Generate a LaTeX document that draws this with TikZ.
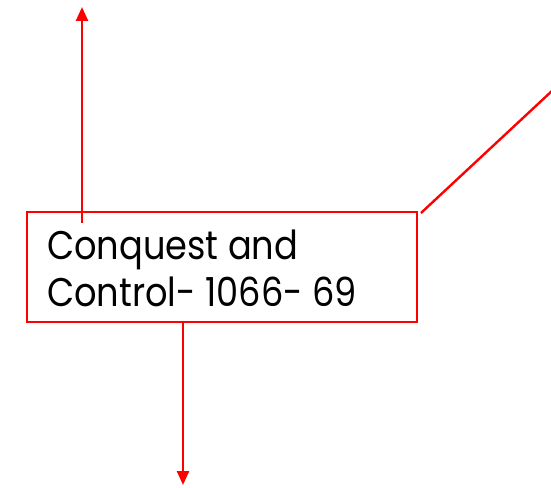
\documentclass[tikz,border=0pt]{standalone}
\usepackage{fontspec}
\setmainfont{Poppins}
\usetikzlibrary{arrows.meta}
\definecolor{linered}{RGB}{255,0,0}
\tikzset{
  x=1pt, y=1pt,
  frame/.style={draw=linered, line width=1.5pt, fill=white},
  link/.style={draw=linered, line width=2.4pt},
  pointer/.style={link, -{Triangle[width=12pt,length=14pt]}},
  label/.style={anchor=base west, inner sep=0pt, xscale=0.88, font=\fontsize{40}{46}\selectfont}
}
\begin{document}
\begin{tikzpicture}
  \useasboundingbox (0,0) rectangle (551,487);
  % connectors leaving the box
  \coordinate (upstart) at (82,264);
  \coordinate (uptip) at (82,480);
  \coordinate (downtip) at (183,2);
  \coordinate (diagend) at (553,397);
  % the box
  \node[frame, minimum width=390pt, minimum height=110pt, anchor=south west, inner sep=0pt] (box) at (26,164) {};
  \draw[pointer] (upstart) -- (uptip);
  \draw[pointer] (box.south -| downtip) -- (downtip);
  \draw[link] (421,274) coordinate (diagstart) -- (diagend);
  \node[label] (line1) at (47,227) {Conquest and};
  \node[label] (line2) at (47,180) {Control- 1066- 69};
\end{tikzpicture}
\end{document}
